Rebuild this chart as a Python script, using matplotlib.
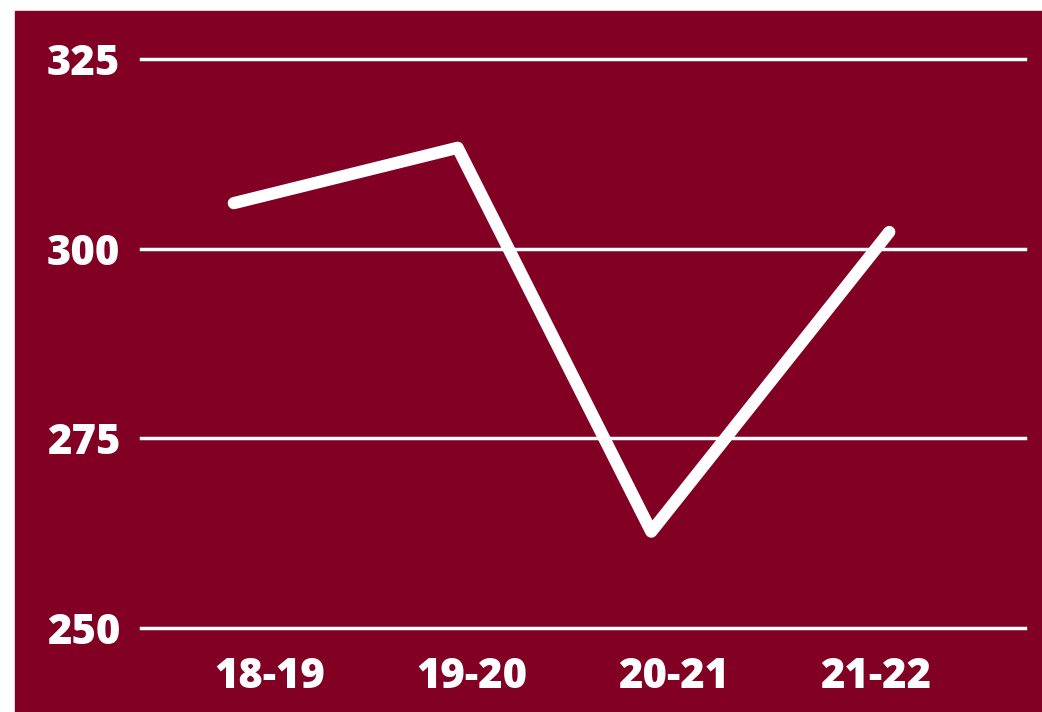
import matplotlib.pyplot as plt
from matplotlib.patches import Rectangle

# data
seasons = ['18-19', '19-20', '20-21', '21-22']
values = [306.0, 313.3, 262.7, 302.2]
# where each point sits along the x axis (in category units)
point_x = [-0.18, 0.93, 1.89, 3.07]
y_ticks = [250, 275, 300, 325]

maroon = '#820024'
plt.rcParams['font.family'] = ['Open Sans', 'DejaVu Sans']

fig = plt.figure(figsize=(10.42, 7.12), dpi=100)
fig.patch.set_facecolor('white')
bg = Rectangle((15 / 1042, 0), 1 - 15 / 1042, 1 - 11 / 712,
               transform=fig.transFigure, color=maroon, zorder=-10)
fig.add_artist(bg)

ax = fig.add_axes([141 / 1042, 1 - 628 / 712, (1025 - 141) / 1042, (628 - 59) / 712])
ax.set_facecolor('none')

ax.plot(point_x, values, color='white', lw=8.8, solid_capstyle='round',
        solid_joinstyle='round', clip_on=False, zorder=3)

ax.set_ylim(250, 325)
ax.set_xlim(-0.64, 3.743)
ax.set_yticks(y_ticks)
ax.set_xticks(range(len(seasons)))
ax.set_xticklabels(seasons)
ax.yaxis.grid(True, color='white', lw=2.5)
ax.set_axisbelow(True)
for gl in ax.get_ygridlines():
    gl.set_clip_on(False)
for s in ax.spines.values():
    s.set_visible(False)

ax.tick_params(axis='y', length=0, pad=15, labelsize=30, labelcolor='white')
ax.tick_params(axis='x', length=0, pad=20, labelsize=30, labelcolor='white')
for t in ax.get_xticklabels() + ax.get_yticklabels():
    t.set_fontweight('heavy')

fig.savefig('out.png', dpi=100)
